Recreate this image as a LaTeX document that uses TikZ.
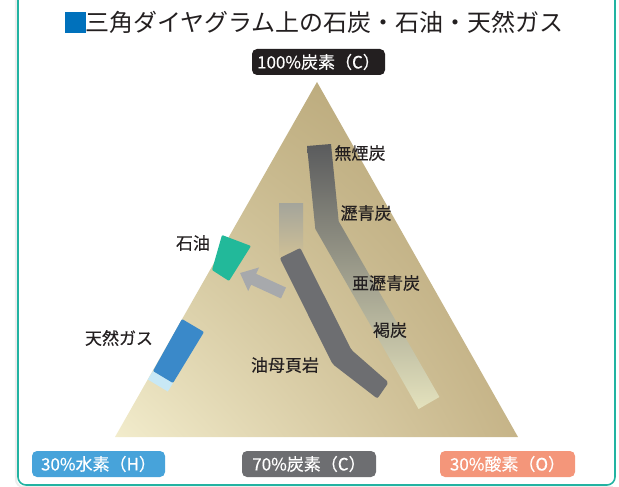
\documentclass[tikz,border=0pt]{standalone}
\usepackage{fontspec}
\setmainfont{Noto Sans CJK JP}
\newfontfamily\jpmed[FakeBold=0.35]{Noto Sans CJK JP}
\usetikzlibrary{arrows.meta,shadings}
\definecolor{frameteal}{HTML}{22B3A2}
\definecolor{titleblue}{HTML}{0071BC}
\definecolor{ink}{HTML}{231F20}
\definecolor{boxblack}{HTML}{231F20}
\definecolor{boxblue}{HTML}{47A3DA}
\definecolor{boxgrey}{HTML}{6D6E71}
\definecolor{boxsalmon}{HTML}{F4967A}
\definecolor{triLL}{HTML}{F2ECCC}
\definecolor{triLR}{HTML}{C6B488}
\definecolor{triUL}{HTML}{C8B98C}
\definecolor{triUR}{HTML}{B3A072}
\definecolor{coalA}{HTML}{5A5B5D}
\definecolor{coalB}{HTML}{878983}
\definecolor{coalC}{HTML}{E4E2BD}
\definecolor{paleTop}{HTML}{A4A59B}
\definecolor{paleBot}{HTML}{CEBF96}
\definecolor{shale}{HTML}{6D6E71}
\definecolor{arrowgrey}{HTML}{A7A9AC}
\definecolor{oilgreen}{HTML}{22B99A}
\definecolor{gasblue}{HTML}{3A89C9}
\definecolor{gascyan}{HTML}{C8E8F5}
\definecolor{shadowgrey}{HTML}{EDEDED}
\tikzset{
  boxlbl/.style={rounded corners=5pt, text=white, minimum height=26pt,
    inner sep=0pt, font=\jpmed\fontsize{17}{17}\selectfont},
  namelbl/.style={text=ink, inner sep=0pt, font=\jpmed\fontsize{17}{17}\selectfont},
}
\begin{document}
\begin{tikzpicture}[x=1pt,y=-1pt]
\useasboundingbox (0,0) rectangle (619,487);
% frame with faint shadow
\draw[shadowgrey, line width=2pt, rounded corners=8pt] (15.8,0) -- (15.8,487.2) -- (612.8,487.2);
\draw[frameteal, line width=1.6pt, rounded corners=8pt] (18,0) -- (18,485) -- (615,485) -- (615,0);
% title
\fill[titleblue] (65,12) rectangle (86,33);
\node[anchor=west, inner sep=0pt, text=ink, font=\fontsize{24}{24}\selectfont] (title) at (85,22.5) {三角ダイヤグラム上の石炭・石油・天然ガス};
% triangle
\shade[lower left=triLL, lower right=triLR, upper left=triUL, upper right=triUR]
  (317,82) -- (518,437) -- (115,437) -- cycle;
% pale rectangle
\shade[top color=paleTop, bottom color=paleBot] (279,203) rectangle (303,256);
% coal band
\shade[top color=coalA, middle color=coalB, bottom color=coalC]
  (307,146) -- (331,144) -- (338.7,221.3) -- (439.4,397) -- (418.6,409) -- (315.3,228.8) -- cycle;
% oil shale band
\fill[shale, rounded corners=2pt]
  (279.7,258.1) -- (300.3,247.9) -- (351.3,349.8) -- (388.6,382.4) -- (377.4,398.6) -- (332.7,364.2) -- cycle;
% arrow
\coordinate (atail) at (283.5,293);
\coordinate (atip) at (240,273);
\draw[arrowgrey, line width=12pt, -{Triangle[length=15pt,width=25pt]}] (atail) -- (atip);
% oil
\fill[oilgreen, rounded corners=1pt] (222,235) -- (251,246) -- (229,281) -- (212,270) -- cycle;
% natural gas
\fill[gascyan] (153,371) -- (173,383) -- (167.8,391.5) -- (147.8,379.5) -- cycle;
\fill[gasblue, rounded corners=1pt] (182,319) -- (204,332) -- (173,383) -- (153,371) -- cycle;
% name labels
\node[namelbl] (anthracite) at (360,153) {無煙炭};
\node[namelbl] (bituminous) at (366,213) {瀝青炭};
\node[namelbl] (subbit) at (386,283) {亜瀝青炭};
\node[namelbl] (lignite) at (390,330) {褐炭};
\node[namelbl] (kerogen) at (285,365) {油母頁岩};
\node[namelbl] (oil) at (193,243) {石油};
\node[namelbl] (gas) at (119,338) {天然ガス};
% corner boxes
\node[boxlbl, fill=boxblack, minimum width=133pt] (ctop) at (318.5,62) {100\%炭素（C）};
\node[boxlbl, fill=boxblue, minimum width=133pt] (hbox) at (98.5,464) {30\%水素（H）};
\node[boxlbl, fill=boxgrey, minimum width=134pt] (cbox) at (309,464) {70\%炭素（C）};
\node[boxlbl, fill=boxsalmon, minimum width=135pt] (obox) at (507.5,464) {30\%酸素（O）};
\end{tikzpicture}
\end{document}
